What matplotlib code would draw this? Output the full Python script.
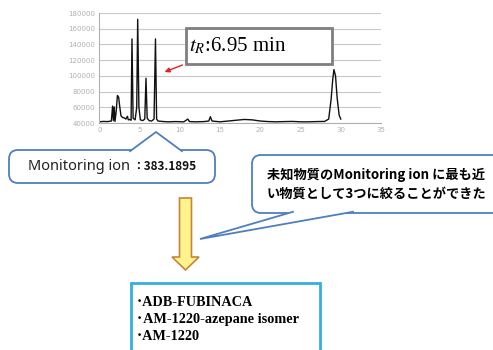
import matplotlib
matplotlib.use("Agg")
import matplotlib.pyplot as plt
from matplotlib.patches import FancyBboxPatch, Polygon, Rectangle

# ---- data ----
time_min = [0.0, 0.5, 1.0, 1.5, 1.65, 1.75, 1.85, 1.95, 2.1, 2.25, 2.4, 2.55, 2.7, 2.9,
            3.1, 3.3, 3.5, 3.6, 3.8, 3.95, 4.06, 4.2, 4.45, 4.65, 4.77, 4.92, 5.1, 5.4,
            5.65, 5.8, 5.95, 6.2, 6.5, 6.8, 6.98, 7.12, 7.3, 7.8, 8.5, 9.5, 10.5, 11.0,
            11.2, 12.0, 13.0, 13.6, 13.8, 14.0, 15.0, 16.0, 17.0, 18.0, 19.0, 20.0,
            21.0, 22.0, 23.0, 24.0, 25.0, 26.0, 27.0, 28.0, 28.5, 28.8, 29.0, 29.15,
            29.35, 29.55, 29.8, 30.0]
intensity = [41500, 42000, 41800, 42500, 61500, 43000, 60500, 42000, 55000, 75000,
             73000, 60000, 49000, 47000, 46500, 45000, 48500, 44000, 44500, 43500,
             147000, 46000, 44000, 60000, 172000, 60000, 44000, 43000, 45000, 97000,
             46000, 43000, 42500, 45000, 147000, 45000, 42500, 42000, 41500, 41800,
             41500, 45000, 41800, 41500, 41800, 42500, 48000, 42500, 41500, 42500,
             43500, 44500, 44000, 42500, 41800, 41500, 41800, 42000, 41500, 41500,
             41800, 42000, 45000, 70000, 95000, 108000, 100000, 72000, 50000, 45000]
x_ticks = [0, 5, 10, 15, 20, 25, 30, 35]
y_ticks = [40000, 60000, 80000, 100000, 120000, 140000, 160000, 180000]
candidates = ["ADB-FUBINACA", "AM-1220-azepane isomer", "AM-1220"]
monitoring_ion = "383.1895"
tr_label = "6.95"

W, H = 493, 350
fig = plt.figure(figsize=(W / 100, H / 100), dpi=100)

# ---- chromatogram ----
L, R, T, B = 99.3, 381, 13, 123
ax = fig.add_axes([L / W, 1 - B / H, (R - L) / W, (B - T) / H])
ax.plot(time_min, intensity, color="#111111", lw=1.0)
ax.set_xlim(0, 35)
ax.set_ylim(40000, 180000)
ax.set_xticks(x_ticks)
ax.set_yticks(y_ticks)
ax.set_yticklabels([str(v) for v in y_ticks])
ax.tick_params(axis="both", length=0, labelsize=5, colors="#b0b0b0", pad=3)
ax.grid(axis="y", color="#c8c8c8", lw=0.8)
for s in ["top", "right"]:
    ax.spines[s].set_visible(False)
ax.spines["left"].set_color("#b0b0b0")
ax.spines["bottom"].set_color("#b0b0b0")

# ---- overlay in pixel coordinates ----
ov = fig.add_axes([0, 0, 1, 1])
ov.set_xlim(0, W)
ov.set_ylim(H, 0)
ov.axis("off")
ov.patch.set_alpha(0)

# tR box
ov.add_patch(Rectangle((186, 28), 146, 36, facecolor="white", edgecolor="#7f7f7f", lw=2, zorder=3))
ov.text(189, 46, r"$t_R$:" + tr_label + " min", fontsize=15, family="Liberation Serif",
        va="center", ha="left", zorder=4, math_fontfamily="stix")
ov.annotate("", xy=(162, 73), xytext=(185, 64),
            arrowprops=dict(arrowstyle="-|>", color="#e82020", lw=1, mutation_scale=7), zorder=4)

blue = "#4f7fbf"


def callout(x0, y0, w, h, base1, base2, tip, ec=blue):
    ov.add_patch(FancyBboxPatch((x0, y0), w, h, boxstyle="round,pad=0,rounding_size=9",
                                facecolor="white", edgecolor=ec, lw=1.3, zorder=3))
    ov.add_patch(Polygon([base1, tip, base2], closed=True, facecolor="white",
                         edgecolor="none", zorder=4))
    ov.plot([base1[0], tip[0], base2[0]], [base1[1], tip[1], base2[1]],
            color=ec, lw=1.3, zorder=5, solid_joinstyle="miter")


# Monitoring ion callout
callout(9, 150, 206, 33, (130, 151.2), (182, 151.2), (156, 132))
ov.text(28, 167, "Monitoring ion", fontsize=10.5, family="Noto Sans", weight="light",
        va="center", ha="left", color="#222222", zorder=6)
ov.text(132, 167, "：" + monitoring_ion, fontsize=8.5, family=["Noto Sans CJK JP", "DejaVu Sans"],
        weight="bold", va="center", ha="left", color="#111111", zorder=6)

# Japanese callout
callout(252, 155, 260, 58, (293, 211.8), (353, 211.8), (200, 239))
ov.text(267, 175, "未知物質のMonitoring ion に最も近", fontsize=9.5,
        family=["Noto Sans CJK JP", "DejaVu Sans"], weight="bold", va="center", ha="left", zorder=6)
ov.text(267, 194, "い物質として3つに絞ることができた", fontsize=9.5,
        family=["Noto Sans CJK JP", "DejaVu Sans"], weight="bold", va="center", ha="left", zorder=6)

# yellow arrow
ov.add_patch(Polygon([(179.5, 198), (191.5, 198), (191.5, 257), (199, 257), (185.5, 270),
                      (172, 257), (179.5, 257)], closed=True, facecolor="#fff48c",
                     edgecolor="#c8843a", lw=1.2, zorder=3))

# candidates box
ov.add_patch(Rectangle((131, 283), 189, 80, facecolor="white", edgecolor="#35ade0", lw=2, zorder=3))
for i, name in enumerate(candidates):
    y = 302 + i * 17.5
    ov.text(136, y, "･" + name, fontsize=10.3,
            family=["Liberation Serif", "Noto Sans CJK JP"], weight="bold",
            va="center", ha="left", zorder=4)

fig.savefig("out.png", dpi=100)
